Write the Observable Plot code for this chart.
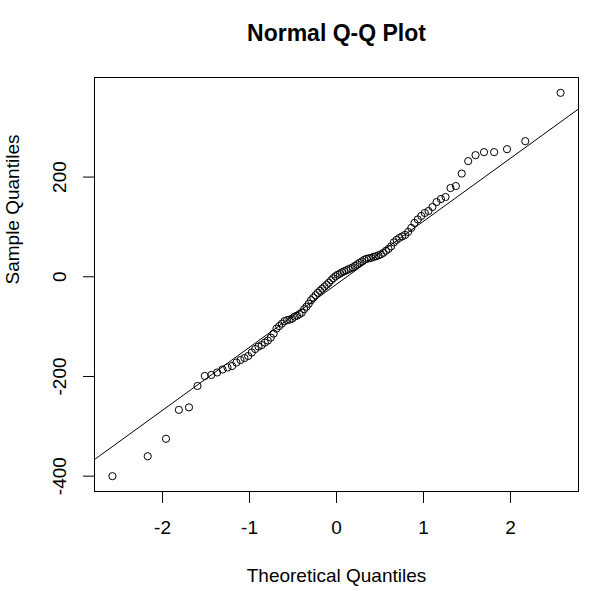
<!DOCTYPE html>
<html>
<head>
<meta charset="utf-8">
<script src="https://cdn.jsdelivr.net/npm/d3@7"></script>
<script src="https://cdn.jsdelivr.net/npm/@observablehq/plot@0.6"></script>
<style>
  html, body { margin: 0; padding: 0; background: #fff; }
  #chart { width: 600px; height: 596px; }
</style>
</head>
<body>
<div id="chart"></div>
<script>
// Theoretical normal quantiles (x) for n = 100
const theoretical = [
  -2.5758, -2.1701, -1.9600, -1.8119, -1.6954, -1.5982, -1.5141, -1.4395, -1.3722, -1.3106,
  -1.2536, -1.2004, -1.1503, -1.1031, -1.0581, -1.0152, -0.9741, -0.9346, -0.8965, -0.8596,
  -0.8239, -0.7892, -0.7554, -0.7225, -0.6903, -0.6588, -0.6280, -0.5978, -0.5681, -0.5388,
  -0.5101, -0.4817, -0.4538, -0.4261, -0.3989, -0.3719, -0.3451, -0.3186, -0.2924, -0.2663,
  -0.2404, -0.2147, -0.1891, -0.1637, -0.1383, -0.1130, -0.0878, -0.0627, -0.0376, -0.0125,
   0.0125,  0.0376,  0.0627,  0.0878,  0.1130,  0.1383,  0.1637,  0.1891,  0.2147,  0.2404,
   0.2663,  0.2924,  0.3186,  0.3451,  0.3719,  0.3989,  0.4261,  0.4538,  0.4817,  0.5101,
   0.5388,  0.5681,  0.5978,  0.6280,  0.6588,  0.6903,  0.7225,  0.7554,  0.7892,  0.8239,
   0.8596,  0.8965,  0.9346,  0.9741,  1.0152,  1.0581,  1.1031,  1.1503,  1.2004,  1.2536,
   1.3106,  1.3722,  1.4395,  1.5141,  1.5982,  1.6954,  1.8119,  1.9600,  2.1701,  2.5758
];
// Sample quantiles (sorted sample values, y)
const sample = [
  -400, -360, -325, -267, -262, -219, -199, -197, -192, -186,
  -182, -179, -172, -167, -163, -159, -152, -145, -140, -137,
  -132, -128, -122, -114, -104,  -99,  -94,  -89,  -87,  -86,
   -84,  -80,  -78,  -75,  -72,  -65,  -60,  -54,  -47,  -42,
   -37,  -32,  -28,  -24,  -20,  -16,  -12,   -7,   -3,    1,
     4,    6,    9,   11,   13,   15,   17,   19,   22,   25,
    28,   31,   34,   36,   37,   38,   40,   41,   43,   45,
    48,   52,   56,   61,   69,   74,   78,   81,   84,   90,
    98,  108,  115,  122,  128,  132,  140,  150,  156,  160,
   178,  182,  207,  232,  244,  250,  250,  256,  272,  369
];
const xTicks = [-2, -1, 0, 1, 2];
const yTicks = [-400, -200, 0, 200];
const titleText = "Normal Q-Q Plot";
const xTitle = "Theoretical Quantiles";
const yTitle = "Sample Quantiles";

const points = theoretical.map((t, i) => ({t, s: sample[i]}));

// R-style 4% range extension
const ext = (arr) => {
  const [a, b] = d3.extent(arr);
  const r = b - a;
  return [a - 0.04 * r, b + 0.04 * r];
};
const xDom = ext(theoretical);
const yDom = ext(sample);

// qqline: through the 1st and 3rd quartiles
const sorted = sample.slice().sort((a, b) => a - b);
const q1 = d3.quantile(sorted, 0.25), q3 = d3.quantile(sorted, 0.75);
const z75 = 0.6744898;
const slope = (q3 - q1) / (2 * z75);
const intercept = q1 + slope * z75;
const lineData = xDom.map(x => ({x, y: intercept + slope * x}));

const font = "'Liberation Sans', Arial, Helvetica, sans-serif";
const fs = 19;

const chart = Plot.plot({
  width: 600,
  height: 596,
  marginLeft: 94,
  marginRight: 22,
  marginTop: 77,
  marginBottom: 105,
  style: {fontFamily: font, fontSize: fs + "px", background: "#fff", color: "#000"},
  x: {domain: xDom},
  y: {domain: yDom},
  marks: [
    Plot.frame({stroke: "#000", strokeWidth: 1}),
    Plot.axisX({ticks: xTicks, tickSize: 12, tickFormat: () => "", label: null, strokeWidth: 1}),
    Plot.axisY({ticks: yTicks, tickSize: 11, tickFormat: () => "", label: null, strokeWidth: 1}),
    Plot.text(xTicks, {x: d => d, text: d => String(d), frameAnchor: "bottom", dy: 42, lineAnchor: "bottom", fontSize: fs, fill: "#000"}),
    Plot.text(yTicks, {y: d => d, text: d => String(d), frameAnchor: "left", dx: -29, rotate: -90, textAnchor: "middle", lineAnchor: "bottom", fontSize: fs, fill: "#000"}),
    Plot.text([xTitle], {text: d => d, frameAnchor: "bottom", dy: 90, lineAnchor: "bottom", fontSize: fs, fill: "#000"}),
    Plot.text([yTitle], {text: d => d, frameAnchor: "left", dx: -76, rotate: -90, lineAnchor: "bottom", fontSize: fs, fill: "#000"}),
    Plot.text([titleText], {text: d => d, frameAnchor: "top", dy: -37, lineAnchor: "bottom", fontSize: 23, fontWeight: "bold", fill: "#000"}),
    Plot.line(lineData, {x: "x", y: "y", stroke: "#000", strokeWidth: 1, clip: true}),
    Plot.dot(points, {x: "t", y: "s", r: 3.6, stroke: "#000", strokeWidth: 1, fill: "none"})
  ]
});
document.getElementById("chart").appendChild(chart);
</script>
</body>
</html>
